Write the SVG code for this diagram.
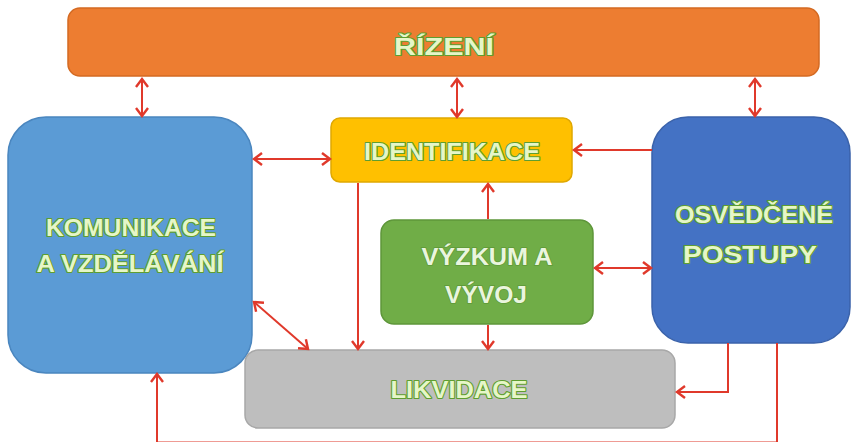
<svg xmlns="http://www.w3.org/2000/svg" width="855" height="442" viewBox="0 0 855 442">
<style>
.lbl{font-family:"Liberation Sans",Arial,sans-serif;font-weight:bold;font-size:24px;fill:#E6F6C8;stroke:#5E9E30;stroke-width:2.2;paint-order:stroke;stroke-linejoin:round;text-anchor:middle}
.lbl2{font-family:"Liberation Sans",Arial,sans-serif;font-weight:bold;font-size:24px;fill:#EAF5DE;stroke:#5E9A38;stroke-width:1.5;paint-order:stroke;text-anchor:middle}
.c{fill:none;stroke:#E0392B;stroke-width:2}
</style>
<defs>
<marker id="ah" markerUnits="userSpaceOnUse" markerWidth="20" markerHeight="20" viewBox="-10 -10 20 20" refX="0" refY="0" orient="auto-start-reverse">
<path d="M-8,-6 L0,0 L-8,6" fill="none" stroke="#E0392B" stroke-width="2.4" stroke-linejoin="miter"/>
</marker>
</defs>
<rect width="855" height="442" fill="#ffffff"/>
<g id="rizeni">
<rect x="68" y="8" width="751" height="68" rx="12" fill="#ED7D31" stroke="#D46A22" stroke-width="1.5"/>
<text class="lbl" x="444" y="55" textLength="100" lengthAdjust="spacingAndGlyphs">ŘÍZENÍ</text>
</g>
<g id="komunikace">
<rect x="8" y="117" width="244" height="256" rx="38" fill="#5B9BD5" stroke="#4A86BF" stroke-width="1.5"/>
<text class="lbl" x="131" y="236" textLength="170" lengthAdjust="spacingAndGlyphs">KOMUNIKACE</text>
<text class="lbl" x="130" y="272" textLength="187" lengthAdjust="spacingAndGlyphs">A VZDĚLÁVÁNÍ</text>
</g>
<g id="identifikace">
<rect x="331" y="118" width="241" height="64" rx="9" fill="#FFC000" stroke="#E0A800" stroke-width="1.5"/>
<text class="lbl" x="452" y="160" textLength="176" lengthAdjust="spacingAndGlyphs">IDENTIFIKACE</text>
</g>
<g id="osvedcene">
<rect x="652" y="117" width="198" height="226" rx="36" fill="#4472C4" stroke="#3A62AA" stroke-width="1.5"/>
<text class="lbl" x="754" y="223" textLength="158" lengthAdjust="spacingAndGlyphs">OSVĚDČENÉ</text>
<text class="lbl" x="750" y="263" textLength="134" lengthAdjust="spacingAndGlyphs">POSTUPY</text>
</g>
<g id="vyzkum">
<rect x="381" y="220" width="212" height="104" rx="13" fill="#70AD47" stroke="#5E963A" stroke-width="1.5"/>
<text class="lbl2" x="487" y="265" textLength="131" lengthAdjust="spacingAndGlyphs">VÝZKUM A</text>
<text class="lbl2" x="486" y="303" textLength="82" lengthAdjust="spacingAndGlyphs">VÝVOJ</text>
</g>
<g id="likvidace">
<rect x="245" y="350" width="430" height="78" rx="13" fill="#BEBEBE" stroke="#A8A8A8" stroke-width="1.5"/>
<text class="lbl" x="459" y="398" textLength="137" lengthAdjust="spacingAndGlyphs">LIKVIDACE</text>
</g>
<g id="connectors">
<line class="c" x1="142" y1="79" x2="142" y2="116" marker-start="url(#ah)" marker-end="url(#ah)"/>
<line class="c" x1="457" y1="79" x2="457" y2="117" marker-start="url(#ah)" marker-end="url(#ah)"/>
<line class="c" x1="755" y1="79" x2="755" y2="116" marker-start="url(#ah)" marker-end="url(#ah)"/>
<line class="c" x1="254" y1="159" x2="330" y2="159" marker-start="url(#ah)" marker-end="url(#ah)"/>
<line class="c" x1="652" y1="150" x2="574" y2="150" marker-end="url(#ah)"/>
<line class="c" x1="488" y1="219" x2="488" y2="184" marker-end="url(#ah)"/>
<line class="c" x1="595" y1="268" x2="651" y2="268" marker-start="url(#ah)" marker-end="url(#ah)"/>
<line class="c" x1="488" y1="325" x2="488" y2="349" marker-end="url(#ah)"/>
<line class="c" x1="358" y1="183" x2="358" y2="349" marker-end="url(#ah)"/>
<line class="c" x1="254" y1="302" x2="308" y2="349" marker-start="url(#ah)" marker-end="url(#ah)"/>
<polyline class="c" points="728,343 728,392 677,392" marker-end="url(#ah)"/>
<polyline class="c" points="777,343 777,442.4 157,442.4 157,374" marker-end="url(#ah)"/>
</g>
</svg>
